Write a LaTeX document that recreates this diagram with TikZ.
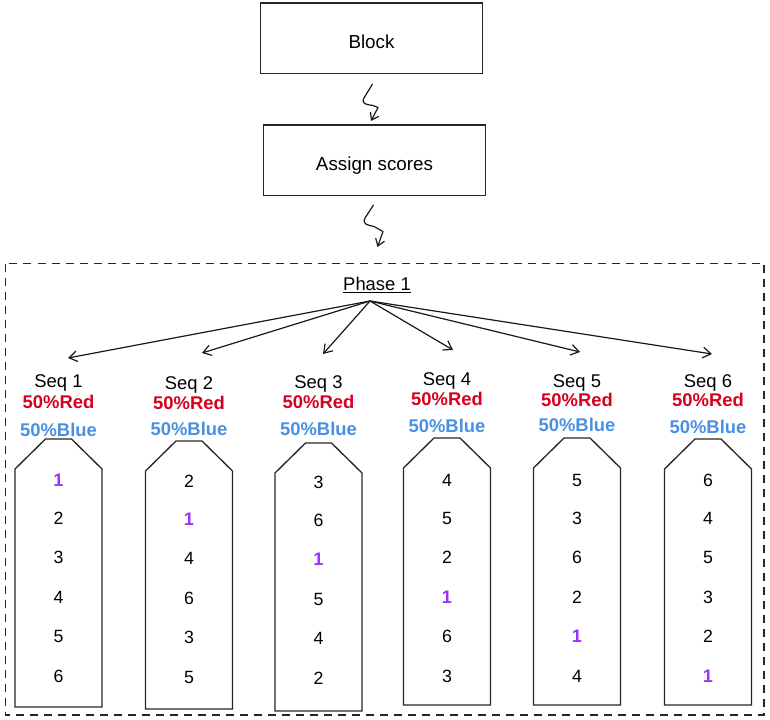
\documentclass[tikz,border=0pt]{standalone}
\usepackage{fontspec}
\setmainfont{Liberation Sans}
\usetikzlibrary{arrows.meta}
\definecolor{myred}{HTML}{D80021}
\definecolor{myblue}{HTML}{4A90E2}
\definecolor{mypurple}{HTML}{9B30FF}
\tikzset{
  box/.style={draw=black!85, line width=1pt, minimum width=166.5pt, minimum height=53pt, inner sep=0pt, text depth=0pt, font=\fontsize{14.1}{16}\selectfont},
  lbl/.style={anchor=base, inner sep=0pt, font=\fontsize{13.8}{16}\selectfont},
  redl/.style={anchor=base, inner sep=0pt, text=myred, font=\fontsize{13.8}{16}\selectfont\bfseries},
  bluel/.style={anchor=base, inner sep=0pt, text=myblue, font=\fontsize{13.8}{16}\selectfont\bfseries},
  num/.style={anchor=base, inner sep=0pt, font=\fontsize{13.3}{16}\selectfont},
  hit/.style={anchor=base, inner sep=0pt, text=mypurple, font=\fontsize{13.6}{16}\selectfont\bfseries},
  conn/.style={draw=black!90, line width=0.9pt, -{Straight Barb[length=6pt,width=8pt]}},
  squig/.style={draw=black!90, line width=0.9pt, line join=round, -{Straight Barb[length=5pt,width=7pt]}},
  shell/.style={draw=black!85, line width=1pt},
  frame/.style={draw=black!85, line width=1pt, dash pattern=on 6pt off 4.5pt},
}
\begin{document}
\begin{tikzpicture}[x=0.75pt,y=-0.75pt]
\useasboundingbox (0,0) rectangle (770,720);
% top boxes
\node[box, text height=14.6pt] (block) at (371.5,38.5) {Block};
\node[box, text height=15.3pt] (assign) at (374.5,160.5) {Assign scores};
% squiggle arrows
\coordinate (s1a) at (372.5,84);
\coordinate (s1b) at (371,121);
\draw[squig] (s1a) -- (364,98) .. controls (361,104) and (366,104.5) .. (373,105.5) -- (378,107.5) -- (s1b);
\coordinate (s2a) at (373.5,205);
\coordinate (s2b) at (377.5,247);
\draw[squig] (s2a) -- (365,218) .. controls (362,224) and (367,225) .. (374,226.5) -- (383,231.5) -- (s2b);
% dashed frame
\draw[frame] (5.5,263.5) rectangle (764,715);
% phase label
\node[lbl] (phase) at (377,290) {\underline{Phase 1}};
\coordinate (ph) at (370,301);
% columns
\foreach \i/\c/\ys/\yr/\yb/\t/\b in {
  1/58.5/381/402/430/439/707,
  2/189/383/403/429/441/709,
  3/318.5/382/402/429/443/711,
  4/447/379/399/426/438/705,
  5/577/381/400/425/438/705,
  6/708/381/400/427/439/705}{
  \node[lbl] (seq\i) at (\c,\ys+6.5) {Seq \i};
  \node[redl] (red\i) at (\c,\yr+6.5) {50\%Red};
  \node[bluel] (blue\i) at (\c,\yb+6.5) {50\%Blue};
  \draw[shell] (\c-13,\t) -- (\c+13,\t) -- (\c+43.5,\t+30) -- (\c+43.5,\b) -- (\c-43.5,\b) -- (\c-43.5,\t+30) -- cycle;
}
% arrow targets
\coordinate (t1) at (68,358);
\coordinate (t2) at (202,353);
\coordinate (t3) at (323,354);
\coordinate (t4) at (453,350);
\coordinate (t5) at (580,352);
\coordinate (t6) at (712,354);
\foreach \i in {1,...,6}{\draw[conn] (ph) -- (t\i);}
% numbers
\foreach \i/\c/\dy/\la/\lb/\lc/\ld/\le/\lf in {
  1/58.5/1/1/2/3/4/5/6,
  2/189/2/2/1/4/6/3/5,
  3/318.5/3/3/6/1/5/4/2,
  4/447/0/4/5/2/1/6/3,
  5/577/0/5/3/6/2/1/4,
  6/708/0/6/4/5/3/2/1}{
  \foreach \v [count=\j] in {\la,\lb,\lc,\ld,\le,\lf}{
    \pgfmathsetmacro{\yy}{{480,518,557,597,636,676}[\j-1]+\dy*0.7+6}
    \ifnum\v=1
      \node[hit] (n\i-\j) at (\c,\yy) {\v};
    \else
      \node[num] (n\i-\j) at (\c,\yy) {\v};
    \fi
  }
}
\end{tikzpicture}
\end{document}
